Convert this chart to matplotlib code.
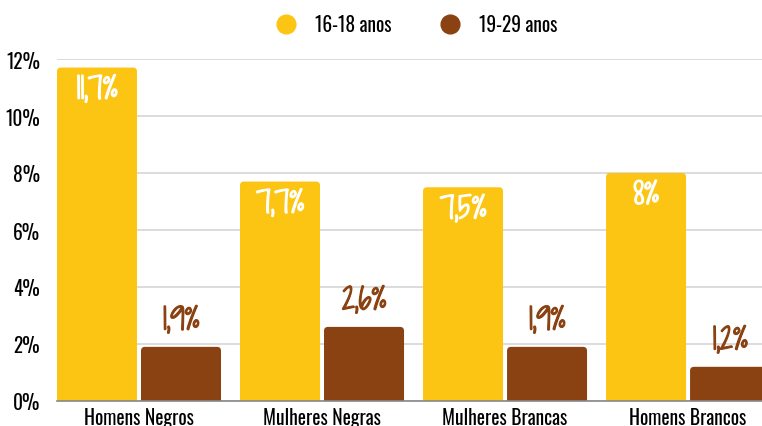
import matplotlib
matplotlib.use("Agg")
import matplotlib.pyplot as plt
import matplotlib.patheffects as pe
from matplotlib.patches import FancyBboxPatch
from matplotlib.lines import Line2D
import numpy as np

# chart data
grupos = ["Homens Negros", "Mulheres Negras", "Mulheres Brancas", "Homens Brancos"]
idade_16_18 = [11.7, 7.7, 7.5, 8.0]
idade_19_29 = [1.9, 2.6, 1.9, 1.2]
rotulos_16_18 = ["11,7%", "7,7%", "7,5%", "8%"]
rotulos_19_29 = ["1,9%", "2,6%", "1,9%", "1,2%"]
series_nomes = ["16-18 anos", "19-29 anos"]

amarelo = "#FDC513"
marrom = "#8A4213"
tick_font = ["Oswald", "DejaVu Sans"]
hand_font = ["Shadows Into Light Two", "DejaVu Sans"]

fig = plt.figure(figsize=(7.62, 4.27), dpi=100)
ax = fig.add_axes([57 / 762, 25 / 427, 705 / 762, 342 / 427])

x = np.arange(len(grupos))
w = 80 / 183
off = 42 / 183

b1 = ax.bar(x - off, idade_16_18, w, color=amarelo, zorder=3)
b2 = ax.bar(x + off, idade_19_29, w, color=marrom, zorder=3)

# swap plain rectangles for ones with rounded corners (bottom hidden below 0)
for bars in (b1, b2):
    for r in bars:
        bx, by = r.get_xy()
        bw, bh = r.get_width(), r.get_height()
        p = FancyBboxPatch((bx, by - 0.3), bw, bh + 0.3,
                           boxstyle="round,pad=0,rounding_size=0.022",
                           mutation_aspect=6.4, facecolor=r.get_facecolor(),
                           edgecolor="none", zorder=3)
        ax.add_patch(p)
        r.remove()

# value labels
for xi, v, t in zip(x, idade_16_18, rotulos_16_18):
    ax.text(xi - off, v - 0.85, t, ha="center", va="center", color="white",
            fontsize=21, family=hand_font, zorder=4,
            path_effects=[pe.withStroke(linewidth=0.9, foreground="white")])
for xi, v, t in zip(x, idade_19_29, rotulos_19_29):
    ax.text(xi + off, v + 0.85, t, ha="center", va="center", color=marrom,
            fontsize=21, family=hand_font, zorder=4,
            path_effects=[pe.withStroke(linewidth=0.9, foreground=marrom)])

ax.set_ylim(0, 12)
ax.set_xlim(-0.448, 3.404)
ax.set_yticks(np.arange(0, 13, 2))
ax.set_yticklabels([f"{v}%" for v in range(0, 13, 2)], family=tick_font,
                   fontsize=14, fontweight="light")
ax.set_xticks(x)
ax.set_xticklabels(grupos, family=tick_font, fontsize=14, fontweight="light")
ax.tick_params(axis="both", length=0)
ax.tick_params(axis="y", pad=12)
ax.tick_params(axis="x", pad=4)

ax.grid(axis="y", color="#d6d6d6", linewidth=1.2, zorder=0)
ax.set_axisbelow(True)
for s in ["top", "right", "left"]:
    ax.spines[s].set_visible(False)
ax.spines["bottom"].set_color("#888888")
ax.spines["bottom"].set_linewidth(1.2)
ax.spines["bottom"].set_zorder(5)

handles = [Line2D([], [], marker="o", linestyle="none", markersize=13.5,
                  markerfacecolor=c, markeredgecolor=c) for c in (amarelo, marrom)]
fig.legend(handles, series_nomes, loc="center", bbox_to_anchor=(412 / 762, 1 - 25 / 427),
           ncol=2, frameon=False, prop={"family": tick_font, "size": 14, "weight": "light"},
           handletextpad=0.5, columnspacing=2.0)

fig.savefig("out.png", dpi=100)
